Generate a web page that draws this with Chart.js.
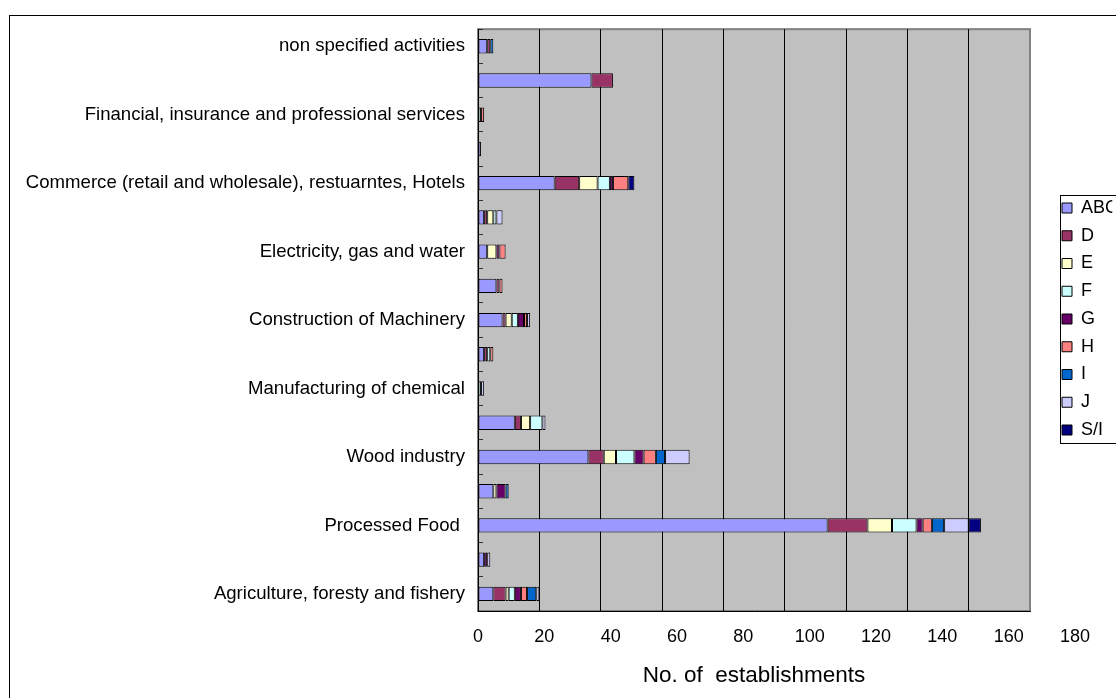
<!DOCTYPE html>
<html>
<head>
<meta charset="utf-8">
<script src="https://cdn.jsdelivr.net/npm/chart.js@4.4.1/dist/chart.umd.min.js"></script>
<style>
  html, body { margin: 0; padding: 0; overflow: hidden; background: #fff; }
  #wrap { position: relative; width: 1160px; height: 698px; }
</style>
</head>
<body>
<div id="wrap"><canvas id="chart"></canvas></div>
<script>
// Sectors, listed from the top of the chart to the bottom
const categories = [
  'non specified activities',
  '',
  'Financial, insurance and professional services',
  '',
  'Commerce (retail and wholesale), restuarntes, Hotels',
  '',
  'Electricity, gas and water',
  '',
  'Construction of Machinery',
  '',
  'Manufacturing of chemical',
  '',
  'Wood industry',
  '',
  'Processed Food ',
  '',
  'Agriculture, foresty and fishery'
];

// Number of establishments per group, same order as categories
const seriesNames = ['ABC', 'D', 'E', 'F', 'G', 'H', 'I', 'J', 'S/I'];
const valuesABC = [3, 37, 0, 1, 25, 2, 3, 6, 8, 2, 0, 12, 36, 5, 114, 2, 5];
const valuesD   = [1, 7, 0, 0, 8, 1, 0, 1, 1, 1, 0, 2, 5, 0, 13, 0, 4];
const valuesE   = [0, 0, 0, 0, 6, 2, 3, 0, 2, 0, 0, 3, 4, 1, 8, 0, 1];
const valuesF   = [0, 0, 1, 0, 4, 1, 0, 0, 2, 1, 1, 4, 6, 0, 8, 0, 2];
const valuesG   = [0, 0, 0, 0, 1, 0, 1, 0, 2, 0, 0, 0, 3, 3, 2, 1, 2];
const valuesH   = [0, 0, 1, 0, 5, 0, 2, 1, 1, 1, 0, 0, 4, 0, 3, 0, 2];
const valuesI   = [1, 0, 0, 0, 0, 0, 0, 0, 0, 0, 0, 0, 3, 1, 4, 0, 3];
const valuesJ   = [0, 0, 0, 0, 0, 2, 0, 0, 1, 0, 1, 1, 8, 0, 8, 1, 1];
const valuesSI  = [0, 0, 0, 0, 2, 0, 0, 0, 0, 0, 0, 0, 0, 0, 4, 0, 0];
const seriesValues = [valuesABC, valuesD, valuesE, valuesF, valuesG, valuesH, valuesI, valuesJ, valuesSI];

// Value axis
const axisMax = 180;
const tickLabels = [0, 20, 40, 60, 80, 100, 120, 140, 160, 180];

const seriesColors = ['#9999FF', '#993366', '#FFFFCC', '#CCFFFF', '#660066', '#FF8080', '#0066CC', '#CCCCFF', '#000080'];

Chart.defaults.font.family = "'Liberation Sans', Arial, sans-serif";
Chart.defaults.color = '#000';

// Plot-area background, outer frame and legend frame
const framePlugin = {
  id: 'framePlugin',
  afterLayout(chart) {
    const lg = chart.legend;
    if (!lg) return;
    const w = lg.width;
    lg.left = 1052.25;
    lg.right = lg.left + w;
    lg.top = 189.25;
    lg.bottom = 698;
  },
  beforeDraw(chart) {
    const { ctx, chartArea: a } = chart;
    ctx.save();
    ctx.fillStyle = '#fff';
    ctx.fillRect(0, 0, chart.width, chart.height);
    ctx.strokeStyle = '#000';
    ctx.lineWidth = 1;
    ctx.strokeRect(9.5, 15.5, chart.width + 200, chart.height + 200);
    ctx.fillStyle = '#c0c0c0';
    ctx.fillRect(a.left, a.top, a.width, a.height);
    ctx.strokeStyle = '#808080';
    ctx.lineWidth = 2;
    ctx.strokeRect(a.left, a.top, a.width, a.height);
    // legend frame
    ctx.strokeStyle = '#000';
    ctx.lineWidth = 1;
    ctx.fillStyle = '#fff';
    ctx.fillRect(1060.5, 195.5, 200, 248);
    ctx.strokeRect(1060.5, 195.5, 200, 248);
    ctx.restore();
  }
};

const datasets = seriesNames.map((name, i) => ({
  label: name,
  data: seriesValues[i].map(v => (v === 0 ? null : v)),
  backgroundColor: seriesColors[i],
  borderColor: '#000',
  borderWidth: 1,
  borderSkipped: false,
  categoryPercentage: 1,
  barPercentage: 0.42
}));

new Chart(document.getElementById('chart'), {
  type: 'bar',
  data: { labels: categories, datasets },
  plugins: [framePlugin],
  options: {
    indexAxis: 'y',
    responsive: true,
    maintainAspectRatio: false,
    animation: false,
    layout: { padding: { top: 27, left: 0, right: 70, bottom: 0 } },
    plugins: {
      tooltip: { enabled: false },
      legend: {
        position: 'right',
        align: 'start',
        maxWidth: 60,
        labels: {
          boxWidth: 10,
          boxHeight: 10,
          padding: 9.75,
          color: '#000',
          font: { size: 18 }
        }
      }
    },
    scales: {
      x: {
        stacked: true,
        min: 0,
        max: axisMax,
        position: 'bottom',
        ticks: { display: false, stepSize: 20 },
        grid: {
          color: ctx => (ctx.tick && ctx.tick.value === axisMax ? '#808080' : '#000'),
          lineWidth: 1,
          drawTicks: false
        },
        border: { display: true, color: '#000', width: 1 },
        afterFit: s => { s.height = 0; }
      },
      x2: {
        type: 'linear',
        position: 'bottom',
        min: 0,
        max: axisMax * 552 / 597,
        grid: { display: false, drawTicks: false },
        border: { display: false },
        ticks: { font: { size: 18 }, color: '#000', padding: 15.2, autoSkip: false, maxRotation: 0 },
        afterBuildTicks: s => { s.ticks = tickLabels.map(v => ({ value: v })); },
        title: {
          display: true,
          text: 'No. of  establishments',
          font: { size: 22.5 },
          color: '#000',
          padding: { top: 0, bottom: 8.5 }
        },
        afterFit: s => { s.height = 87; }
      },
      y: {
        stacked: true,
        type: 'category',
        grid: {
          display: true,
          drawOnChartArea: false,
          drawTicks: true,
          tickLength: -5,
          color: '#333',
          offset: true
        },
        border: { display: true, color: '#000', width: 1 },
        ticks: { font: { size: 18.6 }, color: '#000', padding: 18, autoSkip: false },
        afterFit: s => { s.width = 478; }
      }
    }
  }
});
</script>
</body>
</html>
